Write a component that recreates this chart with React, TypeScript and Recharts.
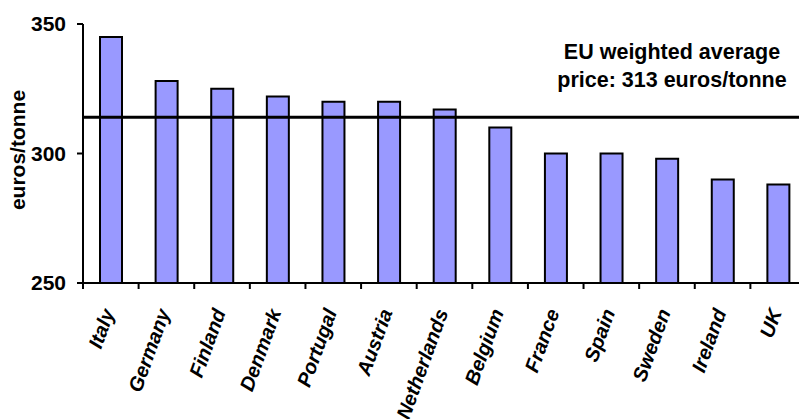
import React from 'react'
import { BarChart, Bar, XAxis, YAxis, ReferenceLine } from 'recharts'

// Values
const countries = [
  'Italy', 'Germany', 'Finland', 'Denmark', 'Portugal', 'Austria', 'Netherlands',
  'Belgium', 'France', 'Spain', 'Sweden', 'Ireland', 'UK',
]
const prices = [345, 328, 325, 322, 320, 320, 317, 310, 300, 300, 298, 290, 288]
const yTicks = [250, 300, 350]
const euAverage = 314

const data = countries.map((name, i) => ({ name, price: prices[i] }))

const FONT = "Arial, 'Liberation Sans', sans-serif"
const CHART_W = 815
const PLOT_LEFT = 83
const PLOT_RIGHT = 9
const BAND = (CHART_W - PLOT_LEFT - PLOT_RIGHT) / countries.length

// Label at the category centre, tick mark at the category boundary
function CountryTick(props: any) {
  const { x, y, payload } = props
  const bx = x - BAND / 2
  const lx = x + 4
  const ly = y + 29
  return (
    <g>
      <line x1={bx} y1={y} x2={bx} y2={y + 6} stroke="#000" strokeWidth={2} />
      <text
        x={lx}
        y={ly}
        transform={`rotate(-70, ${lx}, ${ly})`}
        textAnchor="end"
        fontFamily={FONT}
        fontSize={20}
        fontWeight="bold"
        fontStyle="italic"
        fill="#000"
      >
        {payload.value}
      </text>
    </g>
  )
}

export default function App() {
  return (
    <div
      style={{
        position: 'absolute',
        left: 0,
        top: 0,
        width: 799,
        height: 419,
        overflow: 'hidden',
        background: '#fff',
        fontFamily: FONT,
      }}
    >
      <BarChart
        width={CHART_W}
        height={419}
        data={data}
        margin={{ top: 24, right: PLOT_RIGHT, left: 0, bottom: 106 }}
      >
        <XAxis
          dataKey="name"
          interval={0}
          height={30}
          tickLine={false}
          tickSize={0}
          tickMargin={0}
          axisLine={{ stroke: '#000', strokeWidth: 2 }}
          tick={<CountryTick />}
        />
        <YAxis
          width={PLOT_LEFT}
          domain={[250, 350]}
          ticks={yTicks}
          interval={0}
          allowDataOverflow
          axisLine={{ stroke: '#000', strokeWidth: 2 }}
          tickLine={{ stroke: '#000', strokeWidth: 2 }}
          tickSize={6}
          tickMargin={11}
          tick={{ fill: '#000', fontSize: 21, fontWeight: 'bold', fontFamily: FONT }}
        />
        <Bar
          dataKey="price"
          barSize={22}
          fill="#9999FF"
          stroke="#000"
          strokeWidth={2}
          isAnimationActive={false}
        />
        <ReferenceLine y={euAverage} stroke="#000" strokeWidth={3} />
      </BarChart>

      <div
        style={{
          position: 'absolute',
          left: 18,
          top: 150,
          transform: 'translate(-50%, -50%) rotate(-90deg)',
          fontSize: 21,
          fontWeight: 'bold',
          whiteSpace: 'nowrap',
          color: '#000',
        }}
      >
        euros/tonne
      </div>

      <div
        style={{
          position: 'absolute',
          left: 672,
          top: 66,
          transform: 'translate(-50%, -50%)',
          fontSize: 21.5,
          fontWeight: 'bold',
          lineHeight: '28px',
          textAlign: 'center',
          whiteSpace: 'nowrap',
          color: '#000',
        }}
      >
        EU weighted average
        <br />
        price: 313 euros/tonne
      </div>
    </div>
  )
}
